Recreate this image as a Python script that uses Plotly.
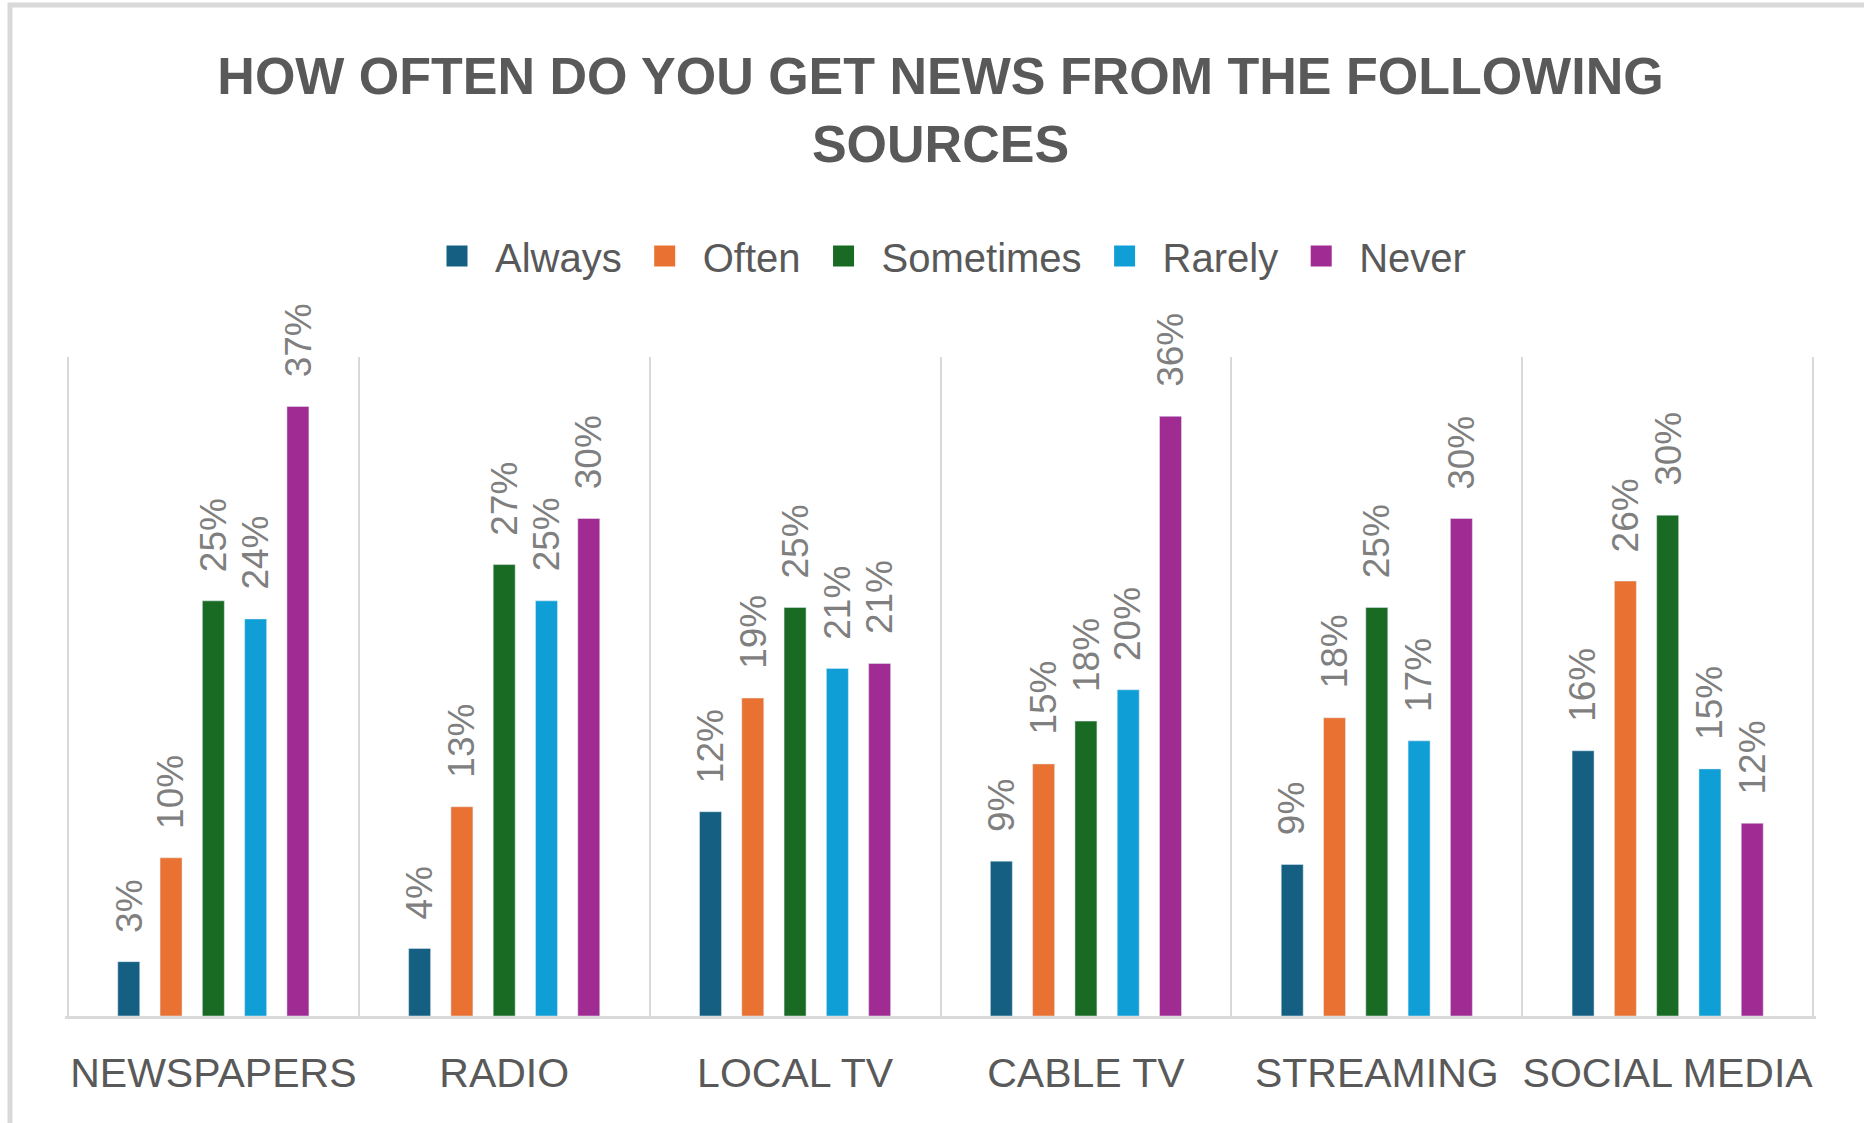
import plotly.graph_objects as go

categories = ["NEWSPAPERS", "RADIO", "LOCAL TV", "CABLE TV", "STREAMING", "SOCIAL MEDIA"]
series_names = ["Always", "Often", "Sometimes", "Rarely", "Never"]
always = [0.033, 0.041, 0.124, 0.094, 0.092, 0.161]
often = [0.096, 0.127, 0.193, 0.153, 0.181, 0.264]
sometimes = [0.252, 0.274, 0.248, 0.179, 0.248, 0.304]
rarely = [0.241, 0.252, 0.211, 0.198, 0.167, 0.150]
never = [0.370, 0.302, 0.214, 0.364, 0.302, 0.117]
colors = ["#156082", "#E97132", "#196B24", "#0F9ED5", "#A02B93"]

series_values = [always, often, sometimes, rarely, never]

W, H = 1864, 1123
L, R, T, B = 65, 48, 357, 107
BARGAP = 0.273
BARGROUPGAP = 0.48
FONT = "Liberation Sans, Arial, sans-serif"

fig = go.Figure()
for name, vals, col in zip(series_names, series_values, colors):
    fig.add_trace(go.Bar(
        x=categories, y=vals, name=name, marker_color=col,
        showlegend=False, hoverinfo="skip",
    ))
# legend entries (larger square swatches)
for name, col in zip(series_names, colors):
    fig.add_trace(go.Scatter(
        x=[None], y=[None], mode="markers", name=name,
        marker=dict(symbol="square", size=16, color=col, line=dict(color=col, width=5)),
        showlegend=True,
    ))

# data labels, positioned at the grouped bar centres
n = len(series_names)
slot = (1 - BARGAP) / n
annotations = []
for j, vals in enumerate(series_values):
    for i, v in enumerate(vals):
        annotations.append(dict(
            x=i + (j - (n - 1) / 2) * slot, y=v, xref="x", yref="y",
            text=f"{v:.0%}", showarrow=False, textangle=-90,
            xanchor="center", yanchor="bottom", yshift=27,
            font=dict(family=FONT, size=37, color="#7f7f7f"),
        ))

pw = W - L - R
ph = H - T - B
fig.add_shape(type="rect", xref="paper", yref="paper",
              x0=(10 - L) / pw, x1=(W + 30 - L) / pw,
              y0=(H - B - (H + 30)) / ph, y1=(H - B - 5) / ph,
              line=dict(color="#d9d9d9", width=5), fillcolor="rgba(0,0,0,0)", layer="below")

fig.update_layout(
    width=W, height=H,
    margin=dict(l=L, r=R, t=T, b=B, pad=0, autoexpand=False),
    paper_bgcolor="white", plot_bgcolor="white",
    barmode="group", bargap=BARGAP, bargroupgap=BARGROUPGAP,
    title=dict(
        text="HOW OFTEN DO YOU GET NEWS FROM THE FOLLOWING<br>SOURCES",
        font=dict(family=FONT, size=52, color="#595959", weight="bold"),
        x=0.5, xref="paper", xanchor="center",
        y=1 - 94 / H, yref="container", yanchor="top",
    ),
    legend=dict(
        orientation="h", x=(945 - L) / pw, xanchor="center",
        y=(H - B - 256) / ph, yanchor="middle",
        font=dict(family=FONT, size=40, color="#595959"),
        itemwidth=66, bgcolor="rgba(0,0,0,0)",
    ),
    xaxis=dict(
        type="category", range=[-0.51, 5.51], tickson="boundaries",
        showgrid=True, gridcolor="#d9d9d9", gridwidth=2,
        showline=True, linecolor="#d9d9d9", linewidth=3,
        ticks="", tickangle=0, automargin=False, ticklabelstandoff=19,
        tickfont=dict(family=FONT, size=41, color="#595959"),
    ),
    yaxis=dict(range=[0, 0.4], showgrid=False, showticklabels=False,
               zeroline=False, showline=False, automargin=False),
    annotations=annotations,
)

fig.write_html("out.html", config={"displayModeBar": False},
               post_script="document.body.style.margin='0';")
